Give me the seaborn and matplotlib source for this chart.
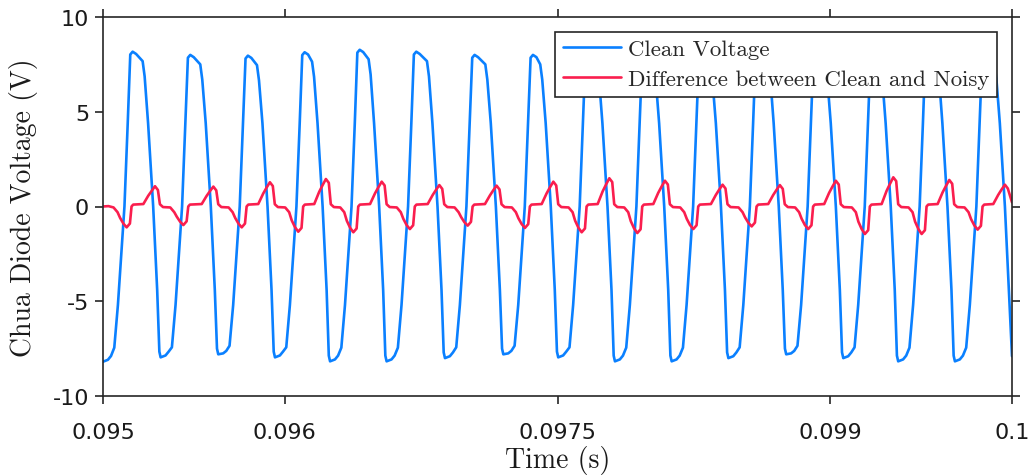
import numpy as np
import pandas as pd
import matplotlib
matplotlib.use("Agg")
import matplotlib.pyplot as plt
import seaborn as sns

# time origin of the window (s); sample times below are microseconds after it
T0 = 0.095

clean_t_us = [
    0, 27, 44, 62, 82, 100, 118, 136, 150, 163, 182, 218, 229, 248, 276, 298, 310,
    317, 344, 361, 379, 399, 417, 435, 453, 467, 480, 499, 535, 546, 565, 593, 615, 627,
    634, 661, 678, 696, 716, 734, 752, 770, 784, 797, 816, 847, 858, 877, 905, 927, 939,
    946, 973, 990, 1008, 1028, 1046, 1064, 1082, 1096, 1109, 1128, 1150, 1161, 1180, 1208, 1230, 1242,
    1249, 1276, 1293, 1311, 1331, 1349, 1367, 1385, 1399, 1412, 1431, 1461, 1472, 1491, 1519, 1541, 1553,
    1560, 1587, 1604, 1622, 1642, 1660, 1678, 1696, 1710, 1723, 1742, 1782, 1793, 1812, 1840, 1862, 1874,
    1881, 1908, 1925, 1943, 1963, 1981, 1999, 2017, 2031, 2044, 2063, 2103, 2114, 2133, 2161, 2183, 2195,
    2202, 2229, 2246, 2264, 2284, 2302, 2320, 2338, 2352, 2365, 2384, 2405, 2416, 2435, 2463, 2485, 2497,
    2504, 2531, 2548, 2566, 2586, 2604, 2622, 2640, 2654, 2667, 2686, 2717, 2728, 2747, 2775, 2797, 2809,
    2816, 2843, 2860, 2878, 2898, 2916, 2934, 2952, 2966, 2979, 2998, 3029, 3040, 3059, 3087, 3109, 3121,
    3128, 3155, 3172, 3190, 3210, 3228, 3246, 3264, 3278, 3291, 3310, 3341, 3352, 3371, 3399, 3421, 3433,
    3440, 3467, 3484, 3502, 3522, 3540, 3558, 3576, 3590, 3603, 3622, 3659, 3670, 3689, 3717, 3739, 3751,
    3758, 3785, 3802, 3820, 3840, 3858, 3876, 3894, 3908, 3921, 3940, 3973, 3984, 4003, 4031, 4053, 4065,
    4072, 4099, 4116, 4134, 4154, 4172, 4190, 4208, 4222, 4235, 4254, 4275, 4286, 4305, 4333, 4355, 4367,
    4374, 4401, 4418, 4436, 4456, 4474, 4492, 4510, 4524, 4537, 4556, 4587, 4598, 4617, 4645, 4667, 4679,
    4686, 4713, 4730, 4748, 4768, 4786, 4804, 4822, 4836, 4849, 4868, 4903, 4914, 4933, 4961, 4983, 5000,
]
clean_v = [
    -8.19, -8.09, -7.89, -7.45, -5.2, -2.6, 0, 4.4, 8.02, 8.17, 8.05, 7.67, 6.87, 4.4, 0, -4.4, -7.66,
    -7.96, -7.86, -7.66, -7.43, -5.2, -2.6, 0, 4.4, 7.85, 8.0, 7.88, 7.5, 6.7, 4.4, 0, -4.4, -7.5,
    -7.8, -7.75, -7.62, -7.35, -5.2, -2.6, 0, 4.4, 7.81, 7.96, 7.84, 7.46, 6.66, 4.4, 0, -4.4, -7.66,
    -7.96, -7.86, -7.66, -7.43, -5.2, -2.6, 0, 4.4, 7.99, 8.14, 8.02, 7.64, 6.84, 4.4, 0, -4.4, -7.87,
    -8.17, -8.07, -7.87, -7.45, -5.2, -2.6, 0, 4.4, 8.12, 8.27, 8.15, 7.77, 6.97, 4.4, 0, -4.4, -7.87,
    -8.17, -8.07, -7.87, -7.45, -5.2, -2.6, 0, 4.4, 8.02, 8.17, 8.05, 7.67, 6.87, 4.4, 0, -4.4, -7.7,
    -8.0, -7.9, -7.7, -7.43, -5.2, -2.6, 0, 4.4, 7.85, 8.0, 7.88, 7.5, 6.7, 4.4, 0, -4.4, -7.5,
    -7.8, -7.75, -7.62, -7.35, -5.2, -2.6, 0, 4.4, 7.85, 8.0, 7.88, 7.5, 6.7, 4.4, 0, -4.4, -7.66,
    -7.96, -7.86, -7.66, -7.43, -5.2, -2.6, 0, 4.4, 7.95, 8.1, 7.98, 7.6, 6.8, 4.4, 0, -4.4, -7.87,
    -8.17, -8.07, -7.87, -7.45, -5.2, -2.6, 0, 4.4, 7.9, 8.05, 7.93, 7.55, 6.75, 4.4, 0, -4.4, -7.87,
    -8.17, -8.07, -7.87, -7.45, -5.2, -2.6, 0, 4.4, 7.85, 8.0, 7.88, 7.5, 6.7, 4.4, 0, -4.4, -7.7,
    -8.0, -7.9, -7.7, -7.43, -5.2, -2.6, 0, 4.4, 8.0, 8.15, 8.03, 7.65, 6.85, 4.4, 0, -4.4, -7.5,
    -7.8, -7.75, -7.62, -7.35, -5.2, -2.6, 0, 4.4, 7.9, 8.05, 7.93, 7.55, 6.75, 4.4, 0, -4.4, -7.7,
    -8.0, -7.9, -7.7, -7.43, -5.2, -2.6, 0, 4.4, 7.95, 8.1, 7.98, 7.6, 6.8, 4.4, 0, -4.4, -7.87,
    -8.17, -8.07, -7.87, -7.45, -5.2, -2.6, 0, 4.4, 8.05, 8.2, 8.08, 7.7, 6.9, 4.4, 0, -4.4, -7.87,
    -8.17, -8.07, -7.87, -7.45, -5.2, -2.6, 0, 4.4, 7.9, 8.05, 7.93, 7.55, 6.75, 4.4, 0, -4.4, -7.9,
]

diff_t_us = [
    0, 30, 58, 80, 94, 112, 130, 148, 157, 166, 222, 249, 268, 286, 302, 313, 330,
    370, 392, 406, 424, 442, 460, 469, 478, 543, 570, 589, 607, 623, 634, 651,
    691, 713, 727, 745, 763, 781, 790, 799, 854, 881, 900, 918, 934, 945, 962,
    1002, 1024, 1038, 1056, 1074, 1092, 1101, 1110, 1162, 1189, 1208, 1226, 1242, 1253, 1270,
    1305, 1327, 1341, 1359, 1377, 1395, 1404, 1413, 1469, 1496, 1515, 1533, 1549, 1560, 1577,
    1616, 1638, 1652, 1670, 1688, 1706, 1715, 1724, 1786, 1813, 1832, 1850, 1866, 1877, 1894,
    1934, 1956, 1970, 1988, 2006, 2024, 2033, 2042, 2101, 2128, 2147, 2165, 2181, 2192, 2209,
    2249, 2271, 2285, 2303, 2321, 2339, 2348, 2357, 2413, 2440, 2459, 2477, 2493, 2504, 2521,
    2561, 2583, 2597, 2615, 2633, 2651, 2660, 2669, 2721, 2748, 2767, 2785, 2801, 2812, 2829,
    2867, 2889, 2903, 2921, 2939, 2957, 2966, 2975, 3027, 3054, 3073, 3091, 3107, 3118, 3135,
    3175, 3197, 3211, 3229, 3247, 3265, 3274, 3283, 3344, 3371, 3390, 3408, 3424, 3435, 3452,
    3496, 3518, 3532, 3550, 3568, 3586, 3595, 3604, 3659, 3686, 3705, 3723, 3739, 3750, 3767,
    3807, 3829, 3843, 3861, 3879, 3897, 3906, 3915, 3967, 3994, 4013, 4031, 4047, 4058, 4075,
    4119, 4141, 4155, 4173, 4191, 4209, 4218, 4227, 4283, 4310, 4329, 4347, 4363, 4374, 4391,
    4431, 4453, 4467, 4485, 4503, 4521, 4530, 4539, 4591, 4618, 4637, 4655, 4671, 4682, 4699,
    4739, 4761, 4775, 4793, 4811, 4829, 4838, 4847, 4897, 4924, 4943, 4961, 4977, 5000,
]
diff_v = [
    0.0, 0.02, -0.05, -0.3, -0.6, -0.9, -1.1, -0.9, 0.0, 0.1, 0.13, 0.57, 0.83, 1.07, 0.87, 0.12, -0.03,
    -0.05, -0.3, -0.54, -0.8, -0.98, -0.78, 0.0, 0.1, 0.13, 0.56, 0.82, 1.05, 0.85, 0.12, -0.03,
    -0.05, -0.3, -0.6, -0.9, -1.1, -0.9, 0.0, 0.1, 0.13, 0.68, 1.0, 1.28, 1.08, 0.12, -0.03,
    -0.05, -0.3, -0.73, -1.09, -1.33, -1.13, 0.0, 0.1, 0.13, 0.77, 1.13, 1.45, 1.25, 0.12, -0.03,
    -0.05, -0.3, -0.75, -1.12, -1.36, -1.16, 0.0, 0.1, 0.13, 0.69, 1.02, 1.31, 1.11, 0.12, -0.03,
    -0.05, -0.3, -0.65, -0.98, -1.19, -0.99, 0.0, 0.1, 0.13, 0.6, 0.88, 1.13, 0.93, 0.12, -0.03,
    -0.05, -0.3, -0.56, -0.83, -1.01, -0.81, 0.0, 0.1, 0.13, 0.58, 0.86, 1.1, 0.9, 0.12, -0.03,
    -0.05, -0.3, -0.62, -0.93, -1.13, -0.93, 0.0, 0.1, 0.13, 0.69, 1.02, 1.31, 1.11, 0.12, -0.03,
    -0.05, -0.3, -0.75, -1.12, -1.36, -1.16, 0.0, 0.1, 0.13, 0.79, 1.16, 1.49, 1.29, 0.12, -0.03,
    -0.05, -0.3, -0.77, -1.15, -1.4, -1.2, 0.0, 0.1, 0.13, 0.72, 1.06, 1.36, 1.16, 0.12, -0.03,
    -0.05, -0.3, -0.65, -0.98, -1.19, -0.99, 0.0, 0.1, 0.13, 0.61, 0.9, 1.15, 0.95, 0.12, -0.03,
    -0.05, -0.3, -0.58, -0.86, -1.05, -0.85, 0.0, 0.1, 0.13, 0.6, 0.88, 1.13, 0.93, 0.12, -0.03,
    -0.05, -0.3, -0.65, -0.98, -1.19, -0.99, 0.0, 0.1, 0.13, 0.72, 1.06, 1.36, 1.16, 0.12, -0.03,
    -0.05, -0.3, -0.8, -1.19, -1.45, -1.25, 0.0, 0.1, 0.13, 0.82, 1.2, 1.54, 1.34, 0.12, -0.03,
    -0.05, -0.3, -0.8, -1.19, -1.45, -1.25, 0.0, 0.1, 0.13, 0.74, 1.09, 1.4, 1.2, 0.12, -0.03,
    -0.05, -0.3, -0.67, -1.0, -1.22, -1.02, 0.0, 0.1, 0.13, 0.61, 0.9, 1.15, 0.95, 0.22,
]

series_names = ["Clean Voltage", "Difference between Clean and Noisy"]
x_ticks = [0.095, 0.096, 0.0975, 0.099, 0.1]
x_tick_labels = ["0.095", "0.096", "0.0975", "0.099", "0.1"]
y_ticks = [-10, -5, 0, 5, 10]
y_tick_labels = ["-10", "-5", "0", "5", "10"]

sns.set_theme(style="white")
plt.rcParams["font.family"] = ["DejaVu Sans"]
plt.rcParams["axes.unicode_minus"] = False

INK = "#262626"
BLUE = "#0A80FF"
RED = "#FA1E4E"
LW = 1.9

df_clean = pd.DataFrame({"t": T0 + np.array(clean_t_us) * 1e-6, "v": clean_v})
df_diff = pd.DataFrame({"t": T0 + np.array(diff_t_us) * 1e-6, "v": diff_v})

fig = plt.figure(figsize=(10.29, 4.77), dpi=100)
ax = fig.add_axes([103 / 1029, 1 - 397 / 477, 909 / 1029, 379 / 477])

sns.lineplot(data=df_clean, x="t", y="v", ax=ax, color=BLUE, linewidth=LW,
             label=series_names[0], estimator=None, sort=False)
sns.lineplot(data=df_diff, x="t", y="v", ax=ax, color=RED, linewidth=LW,
             label=series_names[1], estimator=None, sort=False)

ax.set_xlim(0.095, 0.1)
ax.set_ylim(-10, 10)
ax.set_xticks(x_ticks)
ax.set_xticklabels(x_tick_labels)
ax.set_yticks(y_ticks)
ax.set_yticklabels(y_tick_labels)

for s in ax.spines.values():
    s.set_visible(True)
    s.set_color(INK)
    s.set_linewidth(1.2)

ax.tick_params(axis="both", which="major", direction="out", length=6, width=1.2,
               color=INK, labelcolor="#1a1a1a", labelsize=16,
               bottom=True, top=True, left=True, right=True,
               labelbottom=True, labeltop=False, labelleft=True, labelright=False)
ax.tick_params(axis="x", pad=13)
ax.tick_params(axis="y", pad=4)

ax.set_xlabel("Time (s)", fontfamily="cmr10", fontsize=20, color="#1a1a1a")
ax.set_ylabel("Chua Diode Voltage (V)", fontfamily="cmr10", fontsize=20, color="#1a1a1a")
ax.xaxis.set_label_coords(0.5, -0.13)
ax.yaxis.set_label_coords(-0.071, 0.5)

leg = ax.legend(loc="upper right", prop={"family": "cmr10", "size": 16.5},
                frameon=True, fancybox=False, framealpha=1, edgecolor=INK,
                borderaxespad=0.65, borderpad=0.33, handlelength=2.55,
                handletextpad=0.3, labelspacing=0.42)
leg.get_frame().set_linewidth(1.2)
for line in leg.get_lines():
    line.set_linewidth(LW)

fig.savefig("out.png", dpi=100)
